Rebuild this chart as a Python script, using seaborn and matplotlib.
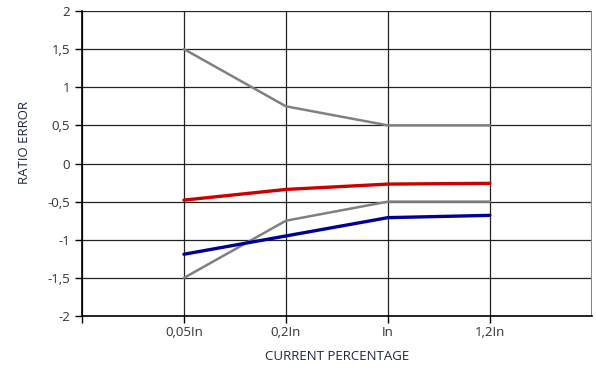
import pandas as pd
import matplotlib.pyplot as plt
import seaborn as sns

categories = ['0,05In', '0,2In', 'In', '1,2In']
upper_limit = [1.5, 0.75, 0.5, 0.5]
lower_limit = [-1.5, -0.75, -0.5, -0.5]
ratio_red = [-0.48, -0.34, -0.27, -0.26]
ratio_blue = [-1.19, -0.95, -0.71, -0.68]
y_ticks = [2, 1.5, 1, 0.5, 0, -0.5, -1, -1.5, -2]

sns.set_style('white')
plt.rcParams['font.family'] = ['Open Sans', 'DejaVu Sans']

pos = list(range(1, len(categories) + 1))
df = pd.DataFrame({'pos': pos, 'upper': upper_limit, 'lower': lower_limit,
                   'red': ratio_red, 'blue': ratio_blue})

fig = plt.figure(figsize=(5.96, 3.69), dpi=100)
ax = fig.add_axes([0.1376, 0.1436, 0.8554, 0.8266])

sns.lineplot(data=df, x='pos', y='upper', ax=ax, color='#808080', linewidth=1.8)
sns.lineplot(data=df, x='pos', y='lower', ax=ax, color='#808080', linewidth=1.8)
sns.lineplot(data=df, x='pos', y='red', ax=ax, color='#cc0000', linewidth=2.4)
sns.lineplot(data=df, x='pos', y='blue', ax=ax, color='#000099', linewidth=2.4)

ax.set_xlim(0, 5)
ax.set_ylim(-2, 2)
ax.set_xticks(range(0, 5))
ax.set_xticklabels([''] + categories)
ax.set_yticks(y_ticks)
ax.set_yticklabels([f'{v:g}'.replace('.', ',') for v in y_ticks])
ax.grid(True, color='#222222', linewidth=0.9)
ax.axvline(5, color='#888888', linewidth=1.5)
ax.set_axisbelow(True)
for side in ['left', 'bottom']:
    ax.spines[side].set_color('black')
    ax.spines[side].set_linewidth(1.2)
ax.spines['top'].set_visible(False)
ax.spines['right'].set_visible(False)
ax.tick_params(axis='both', which='both', length=5, width=1, color='black',
               labelsize=9.5, labelcolor='#333333', left=True, bottom=True, direction='out')
ax.tick_params(axis='x', pad=2)
ax.set_xlabel('CURRENT PERCENTAGE', fontsize=9.5, color='#1c2740', labelpad=8)
ax.set_ylabel('RATIO ERROR', fontsize=9.5, color='#1c2740')
ax.yaxis.set_label_coords(-0.10, 0.57)

plt.savefig('out.png', dpi=100)
